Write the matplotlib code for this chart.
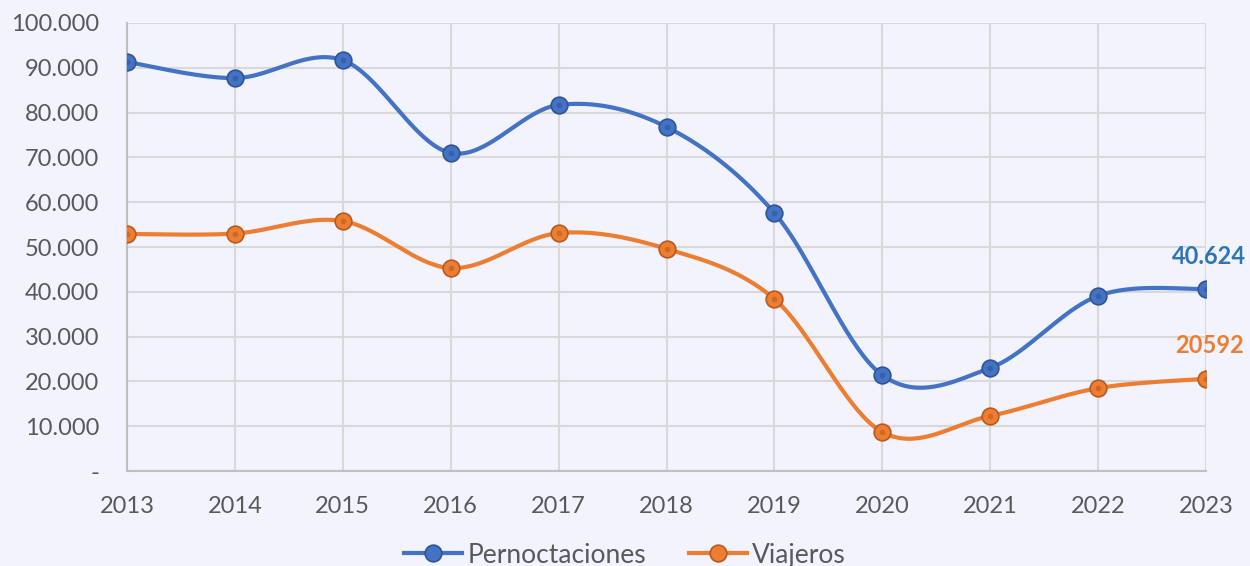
import numpy as np
import matplotlib
matplotlib.use("Agg")
import matplotlib.pyplot as plt
from matplotlib.ticker import FuncFormatter

years = [2013, 2014, 2015, 2016, 2017, 2018, 2019, 2020, 2021, 2022, 2023]
pernoctaciones = [91300, 87700, 91700, 71000, 81700, 76800, 57600, 21400, 23000, 39100, 40624]
viajeros = [52900, 53000, 55800, 45300, 53100, 49600, 38400, 8700, 12300, 18500, 20592]
series_names = ["Pernoctaciones", "Viajeros"]
end_labels = ["40.624", "20592"]

blue = "#4472C4"
orange = "#ED7D31"
bg = "#F2F3FD"
txt = "#595959"


def smooth(x, y, n=40):
    # Excel-like smoothed line: Catmull-Rom via cubic Bezier segments
    x = np.asarray(x, float)
    y = np.asarray(y, float)
    px = np.concatenate([[x[0]], x, [x[-1]]])
    py = np.concatenate([[y[0]], y, [y[-1]]])
    xs, ys = [], []
    t = np.linspace(0, 1, n)
    for i in range(1, len(px) - 2):
        p0 = np.array([px[i], py[i]])
        p3 = np.array([px[i + 1], py[i + 1]])
        p1 = p0 + (np.array([px[i + 1], py[i + 1]]) - np.array([px[i - 1], py[i - 1]])) / 6
        p2 = p3 - (np.array([px[i + 2], py[i + 2]]) - np.array([px[i], py[i]])) / 6
        b = ((1 - t) ** 3)[:, None] * p0 + (3 * (1 - t) ** 2 * t)[:, None] * p1 \
            + (3 * (1 - t) * t ** 2)[:, None] * p2 + (t ** 3)[:, None] * p3
        xs.extend(b[:, 0])
        ys.extend(b[:, 1])
    return np.array(xs), np.array(ys)


plt.rcParams['font.family'] = ['Lato', 'DejaVu Sans']

fig = plt.figure(figsize=(12.5, 5.66), dpi=100, facecolor=bg)
ax = fig.add_axes([0.1016, 0.1678, 0.8632, 0.7916])
ax.set_facecolor(bg)

xi = np.arange(len(years))
handles = []
for vals, col, dark, name in [(pernoctaciones, blue, "#2F5597", series_names[0]),
                              (viajeros, orange, "#B85A1E", series_names[1])]:
    sx, sy = smooth(xi, vals)
    ax.plot(sx, sy, color=col, lw=3, zorder=3, solid_capstyle="round")
    ax.plot(xi, vals, ls="none", marker="o", ms=12, mfc=col, mec=dark, mew=1.2, zorder=4)
    ax.plot(xi, vals, ls="none", marker="o", ms=4, mfc=dark, mec="none", alpha=0.6, zorder=5)
    h, = ax.plot([], [], color=col, lw=3, marker="o", ms=12, mfc=col, mec=dark, mew=1.2, label=name)
    handles.append(h)

ax.text(xi[-1] + 0.03, pernoctaciones[-1] + 4800, end_labels[0], color="#2E75B6",
        fontsize=17, fontweight="bold", ha="center", va="bottom")
ax.text(xi[-1] + 0.03, viajeros[-1] + 4800, end_labels[1], color=orange,
        fontsize=17, fontweight="bold", ha="center", va="bottom")

ax.set_xlim(0, len(years) - 1)
ax.set_ylim(0, 100000)
ax.set_yticks(np.arange(0, 100001, 10000))
ax.yaxis.set_major_formatter(FuncFormatter(lambda v, p: "-" if v == 0 else f"{int(v):,}".replace(",", ".")))
ax.set_xticks(xi)
ax.set_xticklabels([str(y) for y in years])
ax.grid(True, color="#D9D9D9", lw=1.5)
ax.set_axisbelow(True)
for s in ["top", "right"]:
    ax.spines[s].set_visible(False)
for s in ["left", "bottom"]:
    ax.spines[s].set_color("#BFBFBF")
    ax.spines[s].set_linewidth(1.5)
ax.tick_params(length=0, labelsize=17, labelcolor=txt)
ax.tick_params(axis="x", pad=18)
ax.tick_params(axis="y", pad=20)

fig.legend(handles=handles, loc="lower center", bbox_to_anchor=(0.5, -0.045), ncol=2,
           frameon=False, fontsize=19, labelcolor=txt, handlelength=2.2,
           handletextpad=0.2, columnspacing=1.6)

fig.savefig("out.png", dpi=100, facecolor=bg)
